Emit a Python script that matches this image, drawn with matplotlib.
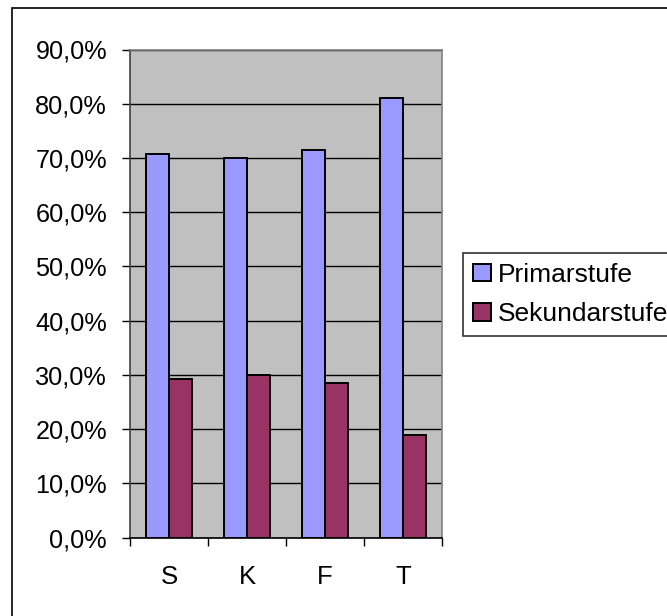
import matplotlib
matplotlib.use("Agg")
import matplotlib.pyplot as plt
import numpy as np
from matplotlib.patches import Rectangle
from matplotlib.ticker import FuncFormatter, MultipleLocator

categories = ["S", "K", "F", "T"]
primarstufe = [70.8, 70.0, 71.4, 81.1]
sekundarstufe = [29.2, 30.0, 28.6, 18.9]
series_names = ["Primarstufe", "Sekundarstufe"]

plt.rcParams['font.family'] = ['Liberation Sans', 'DejaVu Sans']

W, H = 667, 616
fig = plt.figure(figsize=(W / 100, H / 100), dpi=100)
fig.patch.set_facecolor("white")

# outer frame
fig.patches.append(Rectangle((12 / W, -0.1), 1.2, 1 - 8 / H + 0.1,
                             transform=fig.transFigure, fill=False,
                             edgecolor="black", linewidth=1.2))

left, right, bottom, top = 130, 442, 537.7, 49.5
ax = fig.add_axes([left / W, 1 - bottom / H, (right - left) / W, (bottom - top) / H])
ax.set_facecolor("#C0C0C0")

x = np.arange(len(categories))
bw = 0.29
ax.bar(x - bw / 2, primarstufe, bw, color="#9999FF", edgecolor="black",
       linewidth=1.4, label=series_names[0], zorder=3)
ax.bar(x + bw / 2, sekundarstufe, bw, color="#993366", edgecolor="black",
       linewidth=1.4, label=series_names[1], zorder=3)

ax.set_xlim(-0.5, len(categories) - 0.5)
ax.set_ylim(0, 90)
ax.yaxis.set_major_locator(MultipleLocator(10))
ax.yaxis.set_major_formatter(FuncFormatter(lambda v, p: f"{v:.1f}%".replace(".", ",")))
ax.yaxis.grid(True, color="black", linewidth=1, zorder=1)
ax.set_axisbelow(True)

ax.set_xticks(x)
ax.set_xticklabels(categories)
ax.set_xticks(np.arange(len(categories) + 1) - 0.5, minor=True)
ax.tick_params(axis="x", which="major", length=0, pad=20, labelsize=18.5)
ax.tick_params(axis="x", which="minor", length=5.5, width=1, color="black")
ax.tick_params(axis="y", length=5.5, width=1, pad=11, labelsize=18.2, color="black")

for s in ["top", "right"]:
    ax.spines[s].set_color("#808080")
    ax.spines[s].set_linewidth(1.2)
ax.spines["left"].set_color("#404040")
ax.spines["left"].set_linewidth(1.2)
ax.spines["bottom"].set_color("black")
ax.spines["bottom"].set_linewidth(1.2)

leg = fig.legend(loc="upper left", bbox_to_anchor=(463 / W, 1 - 253 / H),
                 bbox_transform=fig.transFigure, borderaxespad=0,
                 fontsize=19, frameon=True, fancybox=False, shadow=False,
                 handlelength=0.68, handleheight=0.64, handletextpad=0.27,
                 labelspacing=0.58, borderpad=0.38)
leg.get_frame().set_edgecolor("black")
leg.get_frame().set_linewidth(1.2)
for p in leg.get_patches():
    p.set_linewidth(1.4)

fig.savefig("out.png", dpi=100, facecolor="white")
